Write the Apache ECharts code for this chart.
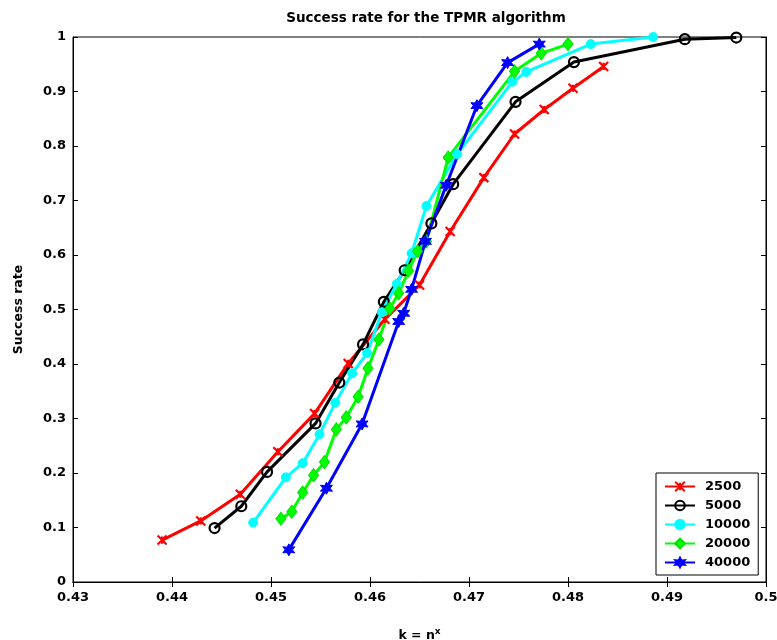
<!DOCTYPE html>
<html>
<head>
<meta charset="utf-8">
<script src="https://cdn.jsdelivr.net/npm/echarts@6/dist/echarts.min.js"></script>
<style>html,body{margin:0;padding:0;background:#fff;}#c{width:777px;height:640px;}</style>
</head>
<body>
<div id="c"></div>
<script>
// ---- data ----
var seriesNames = ['2500', '5000', '10000', '20000', '40000'];

var x2500 = [0.4390, 0.4429, 0.4469, 0.4507, 0.4544, 0.4578, 0.4615, 0.4650, 0.4681, 0.4715, 0.4746, 0.4776, 0.4805, 0.4836];
var y2500 = [0.077, 0.112, 0.161, 0.239, 0.309, 0.401, 0.482, 0.545, 0.643, 0.742, 0.822, 0.867, 0.906, 0.946];

var x5000 = [0.4443, 0.4470, 0.4496, 0.4545, 0.4569, 0.4593, 0.4614, 0.4635, 0.4662, 0.4684, 0.4747, 0.4806, 0.4918, 0.4970];
var y5000 = [0.099, 0.139, 0.202, 0.291, 0.366, 0.436, 0.514, 0.572, 0.658, 0.730, 0.881, 0.954, 0.996, 0.999];

var x10000 = [0.4482, 0.4515, 0.4532, 0.4549, 0.4565, 0.4582, 0.4597, 0.4612, 0.4627, 0.4642, 0.4657, 0.4688, 0.4744, 0.4758, 0.4823, 0.4886];
var y10000 = [0.109, 0.192, 0.218, 0.271, 0.329, 0.383, 0.420, 0.495, 0.547, 0.603, 0.690, 0.785, 0.918, 0.936, 0.987, 1.000];

var x20000 = [0.4510, 0.4521, 0.4532, 0.4543, 0.4554, 0.4566, 0.4576, 0.4588, 0.4598, 0.4609, 0.4620, 0.4629, 0.4639, 0.4648, 0.4657, 0.4679, 0.4746, 0.4773, 0.4800];
var y20000 = [0.116, 0.129, 0.164, 0.196, 0.220, 0.280, 0.302, 0.340, 0.392, 0.445, 0.502, 0.530, 0.571, 0.607, 0.625, 0.779, 0.937, 0.970, 0.987];

var x40000 = [0.4518, 0.4556, 0.4592, 0.4629, 0.4634, 0.4642, 0.4656, 0.4677, 0.4708, 0.4739, 0.4771];
var y40000 = [0.059, 0.172, 0.290, 0.478, 0.493, 0.537, 0.625, 0.728, 0.874, 0.953, 0.987];

var xTicks = [0.43, 0.44, 0.45, 0.46, 0.47, 0.48, 0.49, 0.5];
var yTicks = [0, 0.1, 0.2, 0.3, 0.4, 0.5, 0.6, 0.7, 0.8, 0.9, 1];

function pairs(xs, ys) { return xs.map(function (x, i) { return [x, ys[i]]; }); }

var FONT = 'DejaVu Sans';
var chart = echarts.init(document.getElementById('c'), null, {renderer: 'canvas'});

var crossPath = 'path://M0,0L10,10M10,0L0,10M5,1L5,9';
var starPath = 'path://M5,0L6.3,2.8L9.3,2.5L7.6,5L9.3,7.5L6.3,7.2L5,10L3.7,7.2L0.7,7.5L2.4,5L0.7,2.5L3.7,2.8Z';

var styles = [
  {color: '#ff0000', symbol: crossPath, size: 9, fill: '#ff0000', border: '#ff0000', bw: 2.2},
  {color: '#000000', symbol: 'circle', size: 10, fill: 'rgba(255,255,255,0)', border: '#000000', bw: 2.2},
  {color: '#00ffff', symbol: 'circle', size: 9, fill: '#00ffff', border: '#00ffff', bw: 1},
  {color: '#00ff00', symbol: 'diamond', size: [10, 13], fill: '#00ff00', border: '#00dd00', bw: 1},
  {color: '#0000ff', symbol: starPath, size: 12, fill: '#0000ff', border: '#0000ff', bw: 1}
];
var xsAll = [x2500, x5000, x10000, x20000, x40000];
var ysAll = [y2500, y5000, y10000, y20000, y40000];

var series = seriesNames.map(function (name, i) {
  var s = styles[i];
  return {
    name: name,
    type: 'line',
    data: pairs(xsAll[i], ysAll[i]),
    symbol: s.symbol,
    symbolSize: s.size,
    showAllSymbol: true,
    lineStyle: {color: s.color, width: 3},
    itemStyle: {color: s.fill, borderColor: s.border, borderWidth: s.bw},
    emphasis: {disabled: true},
    animation: false,
    clip: false
  };
});

var tickLabel = {fontFamily: FONT, fontWeight: 'bold', fontSize: 13, color: '#000'};

chart.setOption({
  backgroundColor: '#ffffff',
  animation: false,
  title: {
    text: 'Success rate for the TPMR algorithm',
    left: 421, top: 6, textAlign: 'center',
    textStyle: {fontFamily: FONT, fontWeight: 'bold', fontSize: 13.5, color: '#000'}
  },
  legend: {
    orient: 'vertical',
    left: 656, top: 473,
    width: 90,
    padding: [7, 8, 6, 8],
    itemWidth: 30, itemHeight: 12, itemGap: 6,
    backgroundColor: '#fff',
    borderColor: '#000', borderWidth: 1,
    textStyle: {fontFamily: FONT, fontWeight: 'bold', fontSize: 13, color: '#000', padding: [0, 0, 0, 5]},
    data: seriesNames
  },
  grid: {left: 73, right: 11, top: 37, bottom: 58, show: true, borderColor: '#000', borderWidth: 1,
         containLabel: false, outerBoundsMode: 'none'},
  xAxis: [{
    type: 'value', min: 0.43, max: 0.5, interval: 0.01,
    name: '{a|k = n}{b|x}', nameLocation: 'middle', nameGap: 45,
    nameTextStyle: {
      rich: {
        a: {fontFamily: FONT, fontWeight: 'bold', fontSize: 12.5, color: '#000'},
        b: {fontFamily: FONT, fontWeight: 'bold', fontSize: 9, color: '#000', verticalAlign: 'bottom', padding: [0, 0, 9, 0]}
      }
    },
    axisLine: {show: true, lineStyle: {color: '#000', width: 1}},
    axisTick: {show: true, inside: true, length: 5, lineStyle: {color: '#000'}},
    axisLabel: Object.assign({margin: 9, formatter: function (v) { return String(+v.toFixed(2)); }}, tickLabel),
    splitLine: {show: false}
  }, {
    type: 'value', min: 0.43, max: 0.5, interval: 0.01, position: 'top',
    axisLine: {show: true, lineStyle: {color: '#000', width: 1}},
    axisTick: {show: true, inside: true, length: 5, lineStyle: {color: '#000'}},
    axisLabel: {show: false}, splitLine: {show: false}
  }],
  yAxis: [{
    type: 'value', min: 0, max: 1, interval: 0.1,
    name: 'Success rate', nameLocation: 'middle', nameGap: 48, nameRotate: 90,
    nameTextStyle: {fontFamily: FONT, fontWeight: 'bold', fontSize: 12.5, color: '#000'},
    axisLine: {show: true, lineStyle: {color: '#000', width: 1}},
    axisTick: {show: true, inside: true, length: 5, lineStyle: {color: '#000'}},
    axisLabel: Object.assign({margin: 7, formatter: function (v) { return String(+v.toFixed(1)); }}, tickLabel),
    splitLine: {show: false}
  }, {
    type: 'value', min: 0, max: 1, interval: 0.1, position: 'right',
    axisLine: {show: true, lineStyle: {color: '#000', width: 1}},
    axisTick: {show: true, inside: true, length: 5, lineStyle: {color: '#000'}},
    axisLabel: {show: false}, splitLine: {show: false}
  }],
  series: series
});
</script>
</body>
</html>
